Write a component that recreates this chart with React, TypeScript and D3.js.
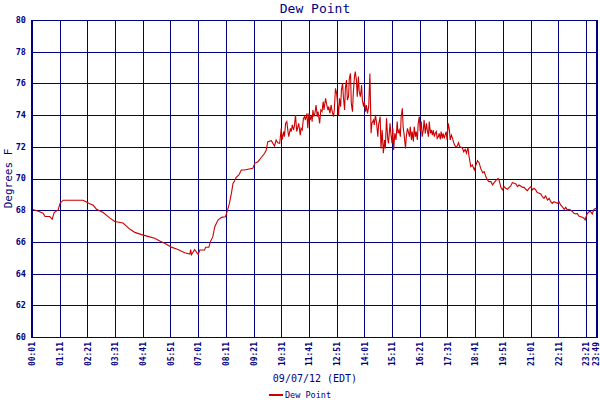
import * as d3 from "d3";

// x tick labels (time of day, EDT)
const xTickLabels = [
  "00:01", "01:11", "02:21", "03:31", "04:41", "05:51", "07:01", "08:11",
  "09:21", "10:31", "11:41", "12:51", "14:01", "15:11", "16:21", "17:31",
  "18:41", "19:51", "21:01", "22:11", "23:21", "23:49",
];

const yTicks = [60, 62, 64, 66, 68, 70, 72, 74, 76, 78, 80];

// [minute of day, dew point °F]
const dewPoint: [number, number][] = [
  [1, 68.06], [17, 67.94], [29, 67.81], [34, 67.6], [46, 67.6], [52, 67.44],
  [57, 67.85], [67, 68.02], [72, 68.44], [80, 68.63], [130, 68.63], [139, 68.52],
  [147, 68.4], [156, 68.31], [164, 68.06], [181, 67.85], [198, 67.5], [210, 67.29],
  [231, 67.19], [248, 66.81], [261, 66.6], [278, 66.46], [294, 66.35], [311, 66.23],
  [324, 66.06], [341, 65.85], [353, 65.67], [370, 65.52], [387, 65.31], [400, 65.23],
  [402, 65.52], [404, 65.19], [412, 65.52], [421, 65.2],
  [425, 65.49], [437, 65.49], [440, 65.66], [448, 65.66], [452, 66.02], [458, 66.33],
  [463, 66.96], [471, 67.38], [480, 67.55], [490, 67.59], [494, 67.91], [500, 68.43],
  [505, 69.06], [509, 69.69], [513, 69.86], [517, 70.07], [524, 70.22], [530, 70.54],
  [538, 70.54], [559, 70.64], [564, 70.96], [572, 71.06], [580, 71.31], [589, 71.59],
  [593, 71.8], [597, 72.32], [606, 72.39], [614, 72.05], [618, 72.43], [622, 72.26],
  [627, 72.22], [631, 73.17], [633, 72.43], [637, 72.96], [639, 72.64], [642, 73.48],
  [645, 73.59], [648, 72.96], [650, 72.64], [654, 73.17], [656, 72.96], [659, 73.38],
  [662, 73.06], [664, 73.27], [667, 74.01], [670, 72.96], [673, 73.27], [675, 73.48],
  [679, 72.74], [681, 73.17], [684, 73.06], [687, 73.79], [690, 73.9], [692, 73.69],
  [696, 74.11], [698, 73.17], [701, 74.11], [704, 73.69], [707, 74.01], [709, 73.59],
  [711, 74.32], [713, 73.9], [716, 74.11], [719, 74.64], [722, 73.9], [724, 74.22],
  [728, 73.48], [731, 74.32], [734, 74.22], [737, 74.85], [739, 74.32], [743, 75.06],
  [746, 74.64], [749, 74.32], [751, 74.53], [754, 74.11], [757, 74.64], [759, 74.32],
  [763, 73.9], [765, 74.32], [768, 75.69], [771, 75.37], [774, 74.53], [776, 74.01],
  [778, 75.06], [781, 74.53], [783, 75.58], [786, 76.0], [788, 75.16], [791, 74.32],
  [793, 75.69], [796, 76.21], [798, 74.95], [801, 75.16], [803, 76.32], [806, 76.63],
  [808, 74.74], [811, 74.22], [813, 75.37], [816, 76.43], [818, 76.74], [821, 76.21],
  [823, 75.16], [826, 76.43], [828, 75.48], [831, 75.16], [834, 75.9], [836, 74.95],
  [839, 74.53], [841, 74.85], [844, 74.22], [846, 74.64], [849, 74.11], [852, 74.53],
  [855, 76.63], [858, 72.85], [860, 73.48], [864, 73.69], [866, 73.38], [869, 74.01],
  [872, 73.48], [875, 72.64], [877, 73.38], [881, 73.9], [883, 71.9], [886, 73.06],
  [889, 71.59], [892, 72.43], [894, 71.9], [897, 73.8], [900, 72.53], [902, 72.22],
  [906, 73.48], [908, 72.85], [911, 72.22], [913, 73.17], [915, 71.8], [918, 72.85],
  [921, 72.43], [924, 73.59], [926, 72.85], [929, 73.06], [932, 72.64], [934, 73.9],
  [937, 74.43], [939, 73.27], [942, 72.64], [945, 71.9], [947, 72.64], [950, 73.17],
  [952, 72.96], [955, 72.64], [957, 73.27], [960, 72.43], [962, 72.96], [965, 72.33],
  [967, 73.27], [970, 72.64], [972, 72.96], [975, 72.43], [977, 73.48], [980, 73.9],
  [982, 72.96], [985, 73.59], [987, 72.64], [990, 73.06], [992, 73.69], [995, 72.85],
  [998, 73.48], [1000, 73.06], [1003, 72.64], [1005, 73.59], [1008, 72.85], [1010, 73.06],
  [1013, 72.74], [1015, 73.06], [1018, 72.64], [1020, 72.85], [1023, 72.96], [1025, 72.53],
  [1028, 72.64], [1030, 72.85], [1033, 72.47], [1035, 72.96], [1038, 72.53], [1040, 72.85],
  [1043, 72.53], [1045, 72.74], [1048, 72.96], [1050, 72.43], [1053, 73.48], [1056, 73.06],
  [1058, 72.43], [1061, 72.74], [1064, 72.53], [1066, 72.33], [1069, 72.11], [1072, 72.01],
  [1076, 72.05], [1079, 72.26], [1082, 72.01], [1086, 71.97], [1089, 71.9], [1092, 71.69],
  [1096, 71.84], [1099, 71.59], [1103, 71.97], [1105, 71.48],
  [1110, 70.75], [1114, 70.85], [1119, 70.54], [1123, 70.85], [1127, 71.13], [1131, 71.0],
  [1135, 70.64], [1140, 70.37], [1144, 70.43], [1148, 70.12], [1152, 69.91], [1156, 69.8],
  [1161, 69.8], [1165, 69.59], [1169, 69.74], [1173, 69.86], [1179, 70.01], [1182, 69.86],
  [1186, 69.44], [1190, 69.28], [1194, 69.49], [1198, 69.38], [1203, 69.32], [1207, 69.44],
  [1211, 69.53], [1215, 69.74], [1220, 69.7], [1224, 69.65], [1228, 69.49], [1232, 69.59],
  [1236, 69.53], [1241, 69.44], [1245, 69.44], [1249, 69.32], [1253, 69.23], [1257, 69.38],
  [1262, 69.49], [1266, 69.28], [1270, 69.38], [1274, 69.28], [1278, 69.11], [1283, 69.07],
  [1287, 69.02], [1291, 68.85], [1295, 68.75], [1299, 68.9], [1304, 68.64], [1308, 68.75],
  [1312, 68.54], [1316, 68.43], [1320, 68.54], [1325, 68.48], [1329, 68.43], [1333, 68.54],
  [1337, 68.33], [1341, 68.22], [1346, 68.05], [1350, 68.18], [1354, 68.01], [1358, 68.05],
  [1362, 68.01], [1367, 67.91], [1371, 67.8], [1375, 67.76], [1379, 67.8], [1383, 67.63],
  [1388, 67.59], [1392, 67.55], [1396, 67.49], [1399, 67.38], [1402, 67.63], [1405, 67.8],
  [1409, 67.91], [1413, 67.91], [1417, 67.76], [1421, 68.05], [1426, 68.11], [1429, 68.05],
];

const NAVY = "#000080";
const RED = "#cc0000";
const MONO = "'DejaVu Sans Mono', monospace";

const toMinutes = (s: string) => +s.slice(0, 2) * 60 + +s.slice(3);

const App = () => {
  const left = 32;
  const right = 597;
  const top = 20;
  const bottom = 337;

  const x = d3
    .scaleLinear()
    .domain([toMinutes(xTickLabels[0]), toMinutes(xTickLabels[xTickLabels.length - 1])])
    .range([left, right]);
  const y = d3.scaleLinear().domain([60, 80]).range([bottom, top]);

  const line = d3
    .line<[number, number]>()
    .x((d) => x(d[0]))
    .y((d) => y(d[1]));

  return (
    <svg
      width={600}
      height={400}
      style={{ position: "absolute", left: 0, top: 0, background: "#fff" }}
    >
      <rect width={600} height={400} fill="#fff" />
      <text x={315} y={12.5} textAnchor="middle" fontFamily={MONO} fontSize={13} fill={NAVY}>
        Dew Point
      </text>

      {/* grid */}
      <g stroke={NAVY} strokeWidth={1} shapeRendering="crispEdges">
        {yTicks.map((t) => (
          <line key={t} x1={left} x2={right} y1={Math.round(y(t)) + 0.5} y2={Math.round(y(t)) + 0.5} />
        ))}
        {xTickLabels.map((l) => (
          <line key={l} x1={Math.round(x(toMinutes(l))) + 0.5} x2={Math.round(x(toMinutes(l))) + 0.5} y1={top} y2={bottom} />
        ))}
      </g>

      {/* data */}
      <path d={line(dewPoint) ?? ""} fill="none" stroke={RED} strokeWidth={1.1} strokeLinejoin="miter" />

      {/* axes */}
      <g stroke={NAVY} shapeRendering="crispEdges">
        <line x1={left} x2={left} y1={top} y2={bottom + 1} strokeWidth={2.5} />
        <line x1={right} x2={right} y1={top} y2={bottom + 1} strokeWidth={2.5} />
      </g>

      {/* y tick labels */}
      <g fontFamily={MONO} fontSize={8.5} fontWeight="bold" fill={NAVY} textAnchor="end">
        {yTicks.map((t) => (
          <text key={t} x={26} y={y(t)} dy="0.35em">
            {t}
          </text>
        ))}
      </g>
      <text
        transform={`translate(12, ${(top + bottom) / 2}) rotate(-90)`}
        textAnchor="middle"
        fontFamily={MONO}
        fontSize={11}
        fill={NAVY}
      >
        Degrees F
      </text>

      {/* x tick labels */}
      <g fontFamily={MONO} fontSize={8} fontWeight="bold" fill={NAVY} textAnchor="end">
        {xTickLabels.map((l) => (
          <text
            key={l}
            transform={`translate(${Math.min(x(toMinutes(l)) + 0.5, 596)}, ${bottom + 5}) rotate(-90)`}
            dy="0.35em"
          >
            {l}
          </text>
        ))}
      </g>
      <text x={315} y={382} textAnchor="middle" fontFamily={MONO} fontSize={10} fill={NAVY}>
        09/07/12 (EDT)
      </text>

      {/* legend */}
      <line x1={269} x2={283} y1={395} y2={395} stroke={RED} strokeWidth={2} />
      <text x={285} y={398} fontFamily={MONO} fontSize={8.5} fill={NAVY}>
        Dew Point
      </text>
    </svg>
  );
};

export default App;
